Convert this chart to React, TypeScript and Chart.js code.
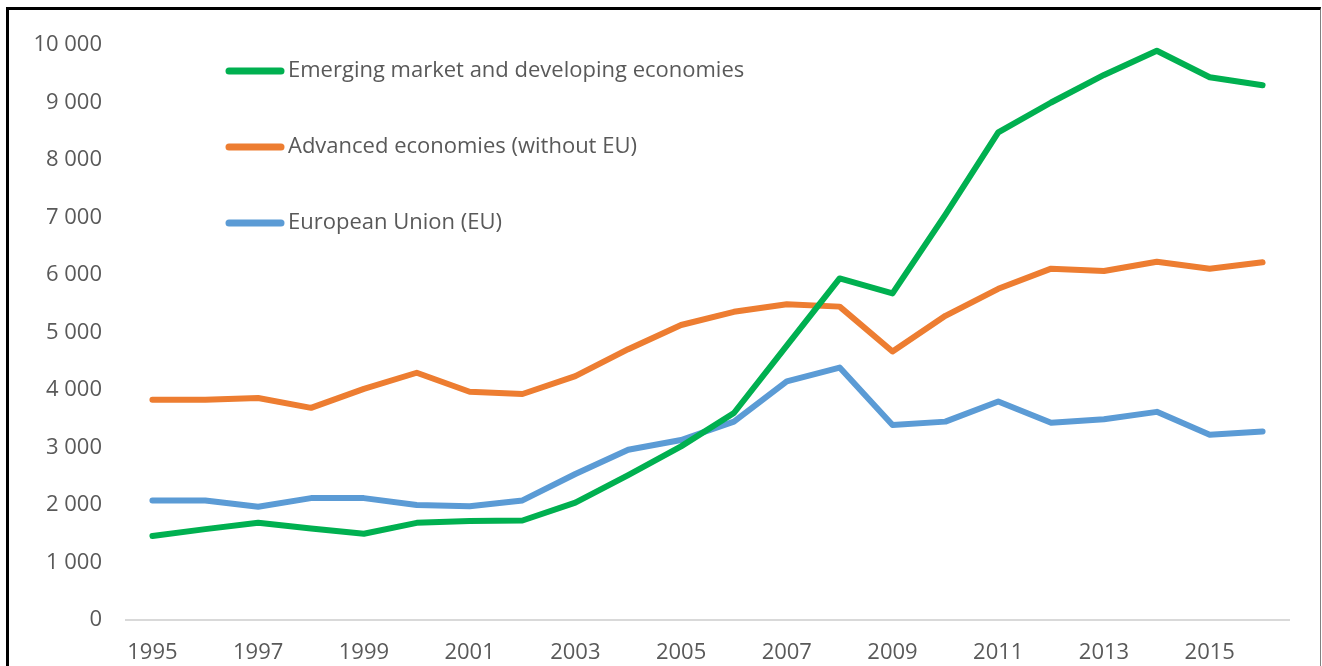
import React, { useEffect, useRef } from "react";
import { Chart, registerables } from "chart.js";

Chart.register(...registerables);

const years = [
  "1995", "1996", "1997", "1998", "1999", "2000", "2001", "2002", "2003", "2004", "2005",
  "2006", "2007", "2008", "2009", "2010", "2011", "2012", "2013", "2014", "2015", "2016",
];

const emerging = [
  1460, 1580, 1690, 1590, 1500, 1690, 1720, 1730, 2040, 2520, 3020,
  3600, 4770, 5940, 5680, 7050, 8480, 9000, 9480, 9900, 9440, 9300,
];

const advanced = [
  3830, 3830, 3860, 3690, 4020, 4300, 3970, 3930, 4240, 4710, 5130,
  5360, 5490, 5450, 4670, 5290, 5760, 6110, 6070, 6230, 6110, 6220,
];

const eu = [
  2080, 2080, 1970, 2120, 2120, 2000, 1980, 2080, 2540, 2960, 3130,
  3450, 4150, 4390, 3390, 3450, 3800, 3430, 3490, 3620, 3220, 3280,
];

const seriesLabels = [
  "Emerging market and developing economies",
  "Advanced economies (without EU)",
  "European Union (EU)",
];

const seriesColors = ["#00B050", "#ED7D31", "#5B9BD5"];

const FONT = "'Open Sans', sans-serif";
const TEXT_COLOR = "#595959";

const legendPlugin = {
  id: "insideLegend",
  afterDatasetsDraw(chart: any) {
    const ctx = chart.ctx;
    const rows = [71, 147, 223];
    ctx.save();
    chart.data.datasets.forEach((ds: any, i: number) => {
      const y = rows[i];
      ctx.strokeStyle = ds.borderColor;
      ctx.lineWidth = 7;
      ctx.lineCap = "round";
      ctx.beginPath();
      ctx.moveTo(229, y);
      ctx.lineTo(281, y);
      ctx.stroke();
      ctx.fillStyle = TEXT_COLOR;
      ctx.font = `22px ${FONT}`;
      ctx.textBaseline = "middle";
      ctx.textAlign = "left";
      ctx.fillText(ds.label, 288, y);
    });
    ctx.restore();
  },
};

function fmt(v: number) {
  return String(v).replace(/\B(?=(\d{3})+(?!\d))/g, " ");
}

export default function App() {
  const ref = useRef<HTMLCanvasElement | null>(null);

  useEffect(() => {
    if (!ref.current) return;
    const data = [emerging, advanced, eu];
    const chart = new Chart(ref.current, {
      type: "line",
      data: {
        labels: years,
        datasets: data.map((d, i) => ({
          label: seriesLabels[i],
          data: d,
          borderColor: seriesColors[i],
          backgroundColor: seriesColors[i],
          borderWidth: 6,
          pointRadius: 0,
          tension: 0,
          borderJoinStyle: "round",
          borderCapStyle: "round",
          fill: false,
        })),
      },
      options: {
        animation: false,
        responsive: false,
        devicePixelRatio: 1,
        layout: { padding: { left: 0, right: 33, top: 45, bottom: 0 } },
        plugins: {
          legend: { display: false },
          tooltip: { enabled: false },
        },
        scales: {
          x: {
            type: "category",
            offset: true,
            grid: { display: false, drawTicks: false },
            border: { display: true, color: "#D9D9D9", width: 2 },
            ticks: {
              autoSkip: false,
              maxRotation: 0,
              padding: 20,
              color: TEXT_COLOR,
              font: { family: FONT, size: 22 },
              callback: (_v: any, i: number) => (i % 2 === 0 ? years[i] : ""),
            },
            afterFit: (s: any) => {
              s.height = 46;
            },
          },
          y: {
            min: 0,
            max: 10000,
            grid: { display: false, drawTicks: false },
            border: { display: false },
            ticks: {
              stepSize: 1000,
              padding: 24,
              color: TEXT_COLOR,
              font: { family: FONT, size: 22 },
              callback: (v: any) => fmt(Number(v)),
            },
            afterFit: (s: any) => {
              s.width = 126;
            },
          },
        },
      },
      plugins: [legendPlugin],
    });
    return () => chart.destroy();
  }, []);

  return (
    <div
      style={{
        position: "fixed",
        left: 0,
        top: 0,
        width: 1322,
        height: 666,
        background: "#fff",
        overflow: "hidden",
      }}
    >
      <canvas
        ref={ref}
        width={1322}
        height={666}
        style={{ position: "absolute", left: 0, top: 0, width: 1322, height: 666 }}
      />
      <div
        style={{
          position: "absolute",
          left: 6,
          top: 7,
          width: 1315,
          height: 720,
          boxSizing: "border-box",
          borderLeft: "3px solid #000",
          borderTop: "3px solid #000",
          borderRight: "1px solid #808080",
          pointerEvents: "none",
        }}
      />
    </div>
  );
}
